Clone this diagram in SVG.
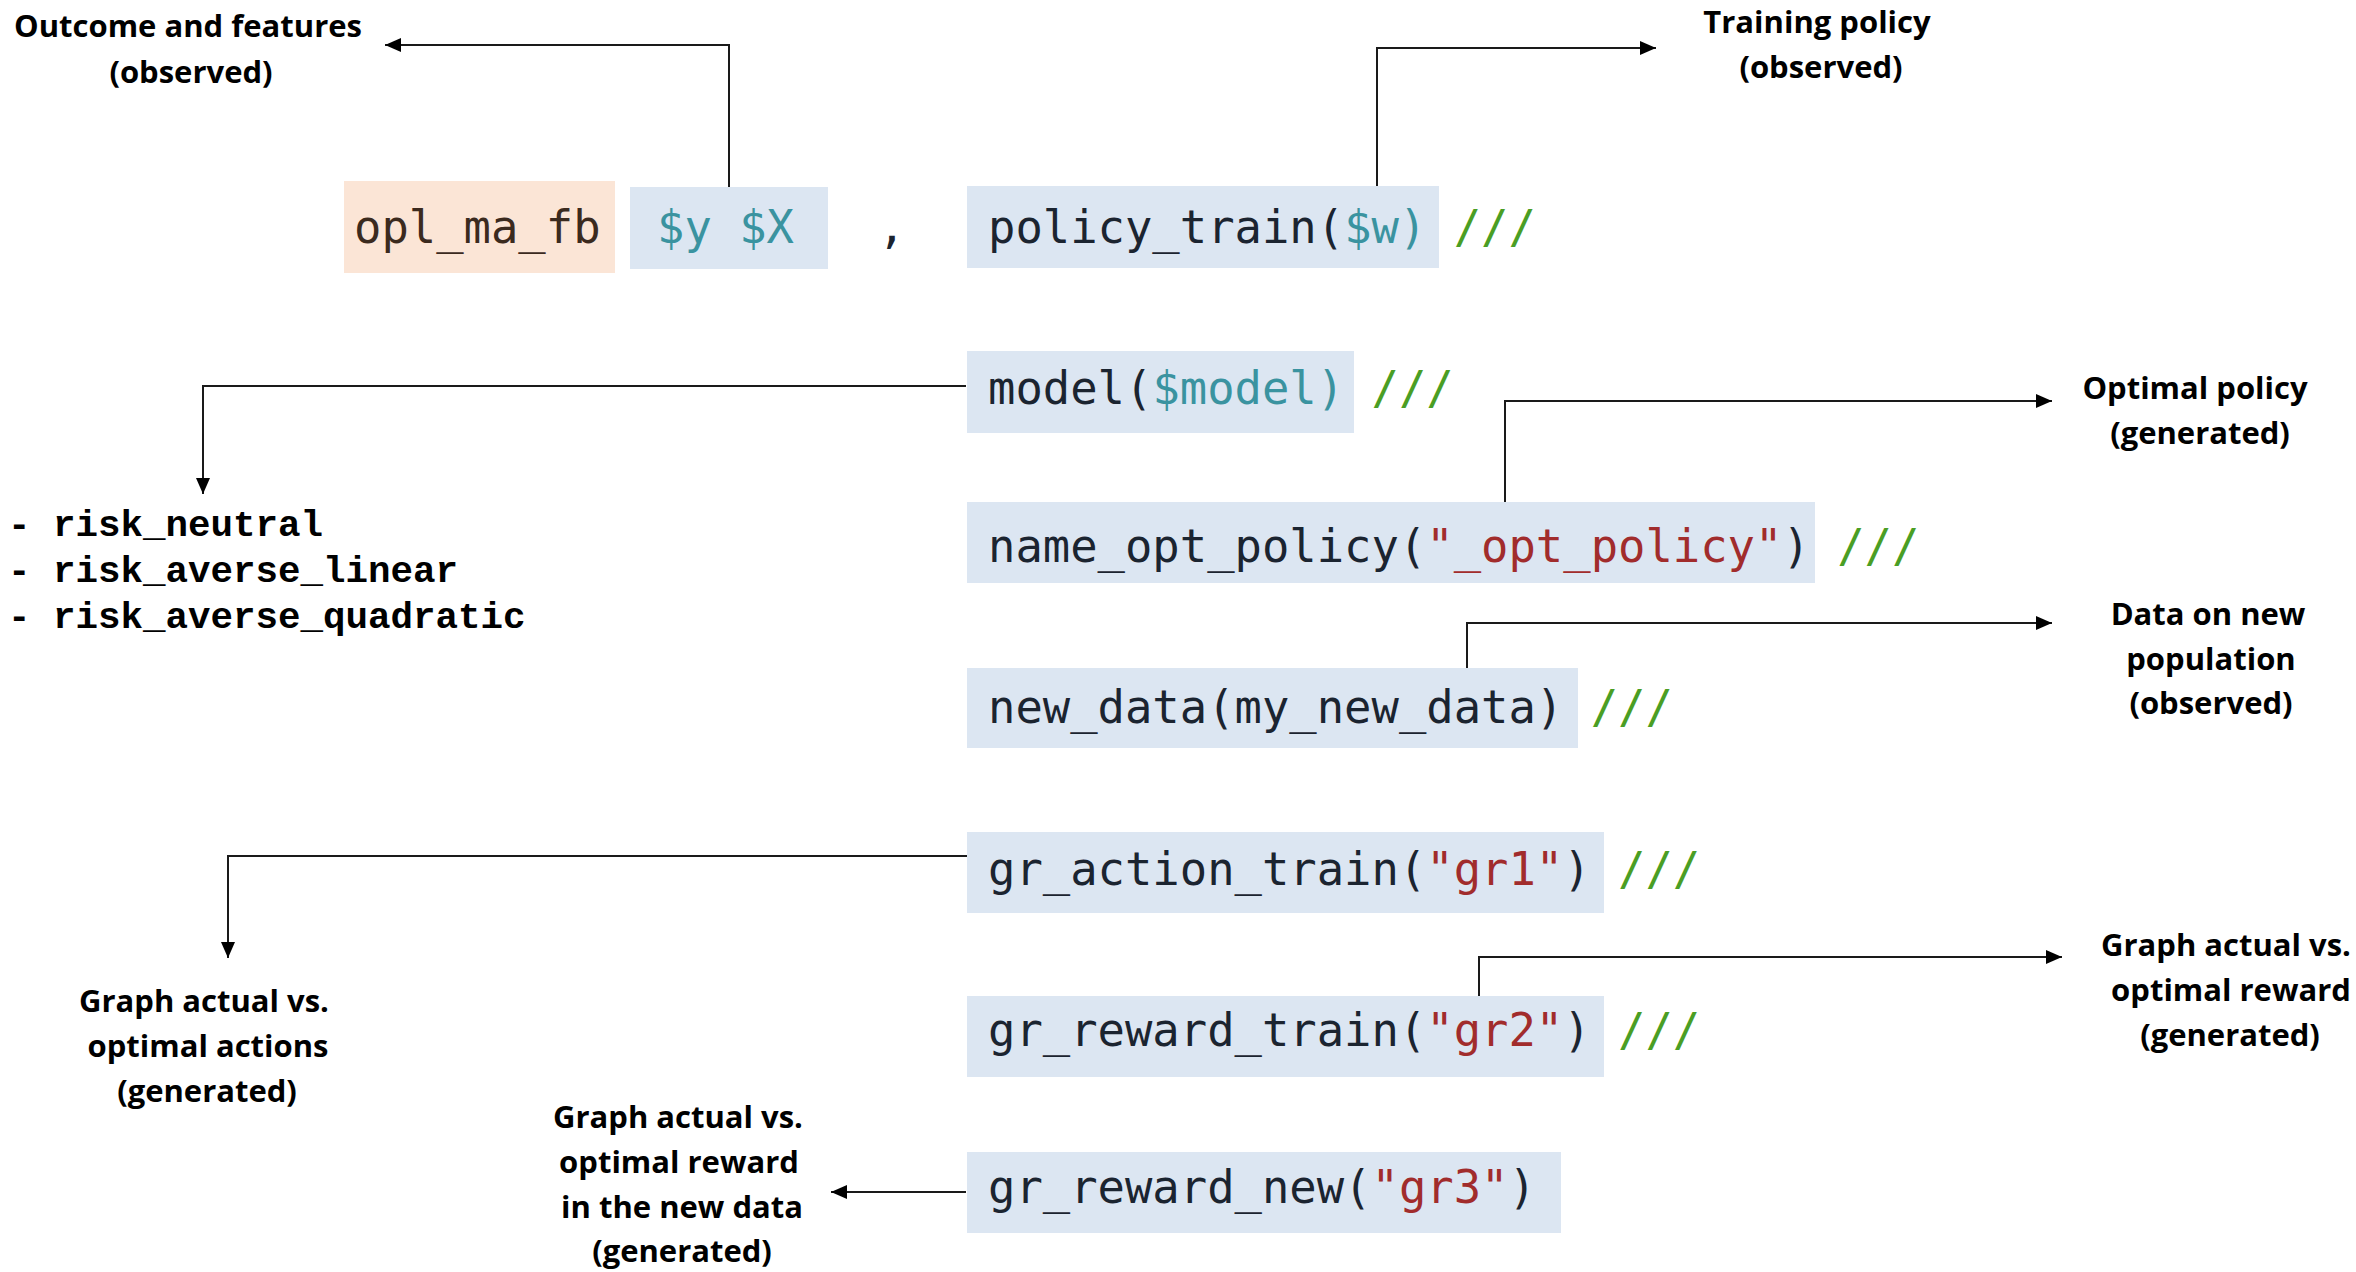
<svg xmlns="http://www.w3.org/2000/svg" width="2356" height="1272" viewBox="0 0 2356 1272">
<defs>
<style>
.code{font-family:"DejaVu Sans Mono","Liberation Mono",monospace;font-size:45.5px;fill:#1b2430}
.teal{fill:#3a93a0}
.red{fill:#a12c2c}
.green{fill:#4a9e24}
.box{fill:#dce6f2}
.lbl{font-family:"Open Sans","Liberation Sans",sans-serif;font-weight:700;font-size:31px;fill:#000;text-anchor:middle}
.risk{font-family:"Liberation Mono","Courier New",monospace;font-weight:700;font-size:37.5px;fill:#000}
.conn{fill:none;stroke:#1a1a1a;stroke-width:2}
</style>
<marker id="arr" markerUnits="userSpaceOnUse" markerWidth="17" markerHeight="15" refX="16" refY="7" orient="auto">
<path d="M0,0 L16,7 L0,14 z" fill="#000"/>
</marker>
</defs>
<rect width="2356" height="1272" fill="#fff"/>

<g id="connectors">
<path class="conn" d="M729,187 V45 H385" marker-end="url(#arr)"/>
<path class="conn" d="M1377,186 V48 H1656" marker-end="url(#arr)"/>
<path class="conn" d="M966,386 H203 V494" marker-end="url(#arr)"/>
<path class="conn" d="M1505,502 V401 H2052" marker-end="url(#arr)"/>
<path class="conn" d="M1467,668 V623 H2052" marker-end="url(#arr)"/>
<path class="conn" d="M984,856 H228 V958" marker-end="url(#arr)"/>
<path class="conn" d="M1479,996 V957 H2062" marker-end="url(#arr)"/>
<path class="conn" d="M966,1192 H831" marker-end="url(#arr)"/>
</g>

<g id="cmd">
<rect x="344" y="181" width="271" height="92" fill="#fbe5d6"/>
<text class="code" x="354" y="243" style="fill:#3b2a1e">opl_ma_fb</text>
</g>
<g id="yx">
<rect class="box" x="630" y="187" width="198" height="82"/>
<text class="code teal" x="657" y="243">$y $X</text>
</g>
<g id="comma">
<text class="code" x="878" y="243">,</text>
</g>
<g id="policy_train">
<rect class="box" x="967" y="186" width="472" height="82"/>
<text class="code" x="988" y="243">policy_train(<tspan class="teal">$w)</tspan> <tspan class="green">///</tspan></text>
</g>
<g id="model">
<rect class="box" x="967" y="351" width="387" height="82"/>
<text class="code" x="988" y="404">model(<tspan class="teal">$model)</tspan> <tspan class="green">///</tspan></text>
</g>
<g id="name_opt_policy">
<rect class="box" x="967" y="502" width="848" height="81"/>
<text class="code" x="988" y="562">name_opt_policy(<tspan class="red">"_opt_policy"</tspan>) <tspan class="green">///</tspan></text>
</g>
<g id="new_data">
<rect class="box" x="967" y="668" width="611" height="80"/>
<text class="code" x="988" y="723">new_data(my_new_data) <tspan class="green">///</tspan></text>
</g>
<g id="gr_action_train">
<rect class="box" x="967" y="832" width="637" height="81"/>
<text class="code" x="988" y="885">gr_action_train(<tspan class="red">"gr1"</tspan>) <tspan class="green">///</tspan></text>
</g>
<g id="gr_reward_train">
<rect class="box" x="967" y="996" width="637" height="81"/>
<text class="code" x="988" y="1046">gr_reward_train(<tspan class="red">"gr2"</tspan>) <tspan class="green">///</tspan></text>
</g>
<g id="gr_reward_new">
<rect class="box" x="967" y="1152" width="594" height="81"/>
<text class="code" x="988" y="1203">gr_reward_new(<tspan class="red">"gr3"</tspan>)</text>
</g>

<g id="lbl_outcome">
<text class="lbl" x="188" y="37">Outcome and features</text>
<text class="lbl" x="191" y="83">(observed)</text>
</g>
<g id="lbl_training">
<text class="lbl" x="1817" y="33">Training policy</text>
<text class="lbl" x="1821" y="78">(observed)</text>
</g>
<g id="lbl_models">
<text class="risk" x="8" y="536">- risk_neutral</text>
<text class="risk" x="8" y="582">- risk_averse_linear</text>
<text class="risk" x="8" y="628">- risk_averse_quadratic</text>
</g>
<g id="lbl_optimal">
<text class="lbl" x="2195" y="399">Optimal policy</text>
<text class="lbl" x="2200" y="444">(generated)</text>
</g>
<g id="lbl_newdata">
<text class="lbl" x="2208" y="625">Data on new</text>
<text class="lbl" x="2211" y="670">population</text>
<text class="lbl" x="2211" y="714">(observed)</text>
</g>
<g id="lbl_gr1">
<text class="lbl" x="204" y="1012">Graph actual vs.</text>
<text class="lbl" x="208" y="1057">optimal actions</text>
<text class="lbl" x="207" y="1102">(generated)</text>
</g>
<g id="lbl_gr2">
<text class="lbl" x="2226" y="956">Graph actual vs.</text>
<text class="lbl" x="2231" y="1001">optimal reward</text>
<text class="lbl" x="2230" y="1046">(generated)</text>
</g>
<g id="lbl_gr3">
<text class="lbl" x="678" y="1128">Graph actual vs.</text>
<text class="lbl" x="679" y="1173">optimal reward</text>
<text class="lbl" x="682" y="1218">in the new data</text>
<text class="lbl" x="682" y="1262">(generated)</text>
</g>
</svg>
